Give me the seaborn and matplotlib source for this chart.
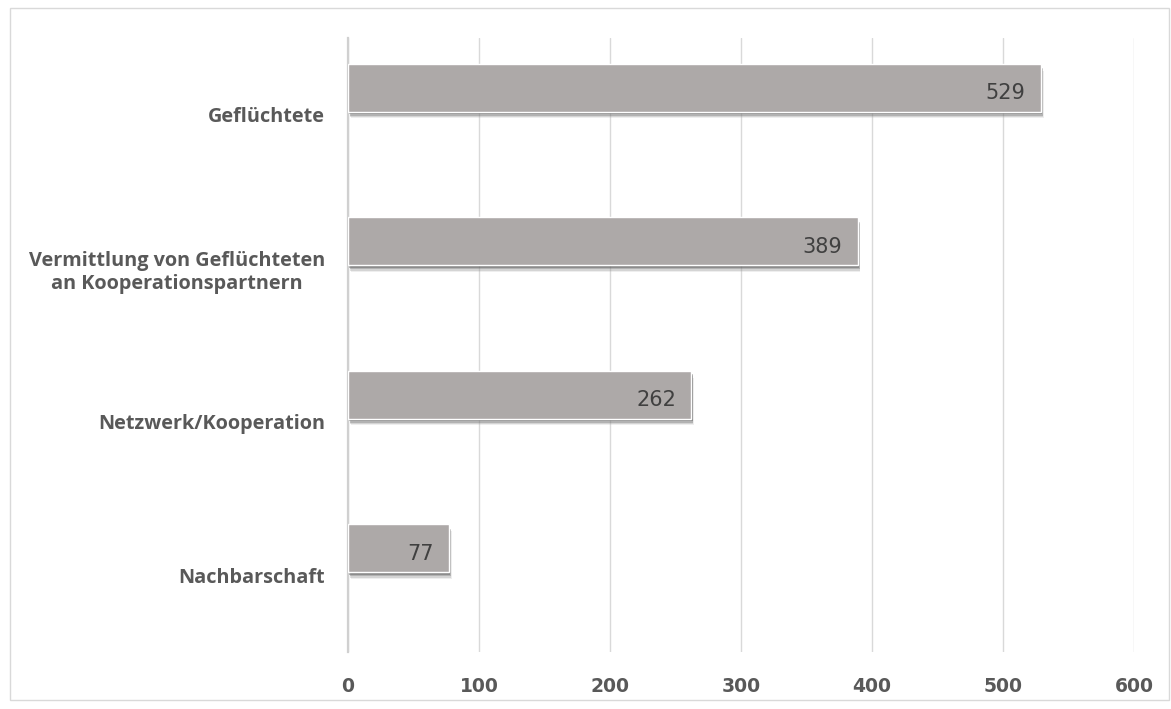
import matplotlib
matplotlib.use("Agg")
import matplotlib.pyplot as plt
import matplotlib.patheffects as pe
from matplotlib.patches import Rectangle
import seaborn as sns
import pandas as pd

categories = ["Geflüchtete",
              "Vermittlung von Geflüchteten\nan Kooperationspartnern",
              "Netzwerk/Kooperation",
              "Nachbarschaft"]
values = [529, 389, 262, 77]
xticks = [0, 100, 200, 300, 400, 500, 600]

sns.set_theme(style="white")
plt.rcParams['font.family'] = ['Open Sans', 'DejaVu Sans']

fig = plt.figure(figsize=(11.71, 7.09), dpi=100)
ax = fig.add_axes([0.2972, 0.0804, 0.6712, 0.866])

df = pd.DataFrame({"cat": categories, "val": values})
sns.barplot(data=df, x="val", y="cat", color="#ADA9A8", width=0.31,
            saturation=1, ax=ax, orient="h", zorder=3)

for p in ax.patches:
    p.set_path_effects([
        pe.SimplePatchShadow(offset=(2, -5), shadow_rgbFace="#AAAAAA", alpha=0.2),
        pe.SimplePatchShadow(offset=(1.5, -4), shadow_rgbFace="#888888", alpha=0.25),
        pe.SimplePatchShadow(offset=(1.5, -3), shadow_rgbFace="#666666", alpha=0.3),
        pe.SimplePatchShadow(offset=(1, -2), shadow_rgbFace="#555555", alpha=0.4),
        pe.Normal()])

texts = ax.bar_label(ax.containers[0], padding=-12, fontsize=15, color="#404040",
                     family="DejaVu Sans")
for t in texts:
    t.set_ha("right")
    t.xyann = (-11, -4)

shift = 0.176
n = len(categories)
ax.set_ylim(n - 0.5 + shift, -0.5 + shift)
ax.set_yticks([i + shift for i in range(n)])
ax.set_yticklabels(categories, fontsize=14.3, fontweight="bold", color="#595959",
                   multialignment="center", family="Open Sans")
ax.set_ylabel("")
ax.set_xlabel("")

ax.set_xlim(0, 600)
ax.set_xticks(xticks)
ax.set_xticklabels([str(v) for v in xticks], fontsize=13.5, fontweight="bold",
                   color="#595959", family="DejaVu Sans")
ax.tick_params(axis="y", length=0, pad=16.5)
ax.tick_params(axis="x", length=0, pad=18)

ax.xaxis.grid(True, color="#D9D9D9", lw=1)
ax.yaxis.grid(False)
ax.set_axisbelow(True)
for s in ["top", "right", "bottom"]:
    ax.spines[s].set_visible(False)
ax.spines["left"].set_color("#D0D0D0")
ax.spines["left"].set_linewidth(1.6)

fig.patches.append(Rectangle((10 / 1171, 9 / 709), 1159 / 1171, 692 / 709,
                             transform=fig.transFigure, fill=False,
                             edgecolor="#D9D9D9", lw=1))

fig.savefig("out.png", dpi=100)
